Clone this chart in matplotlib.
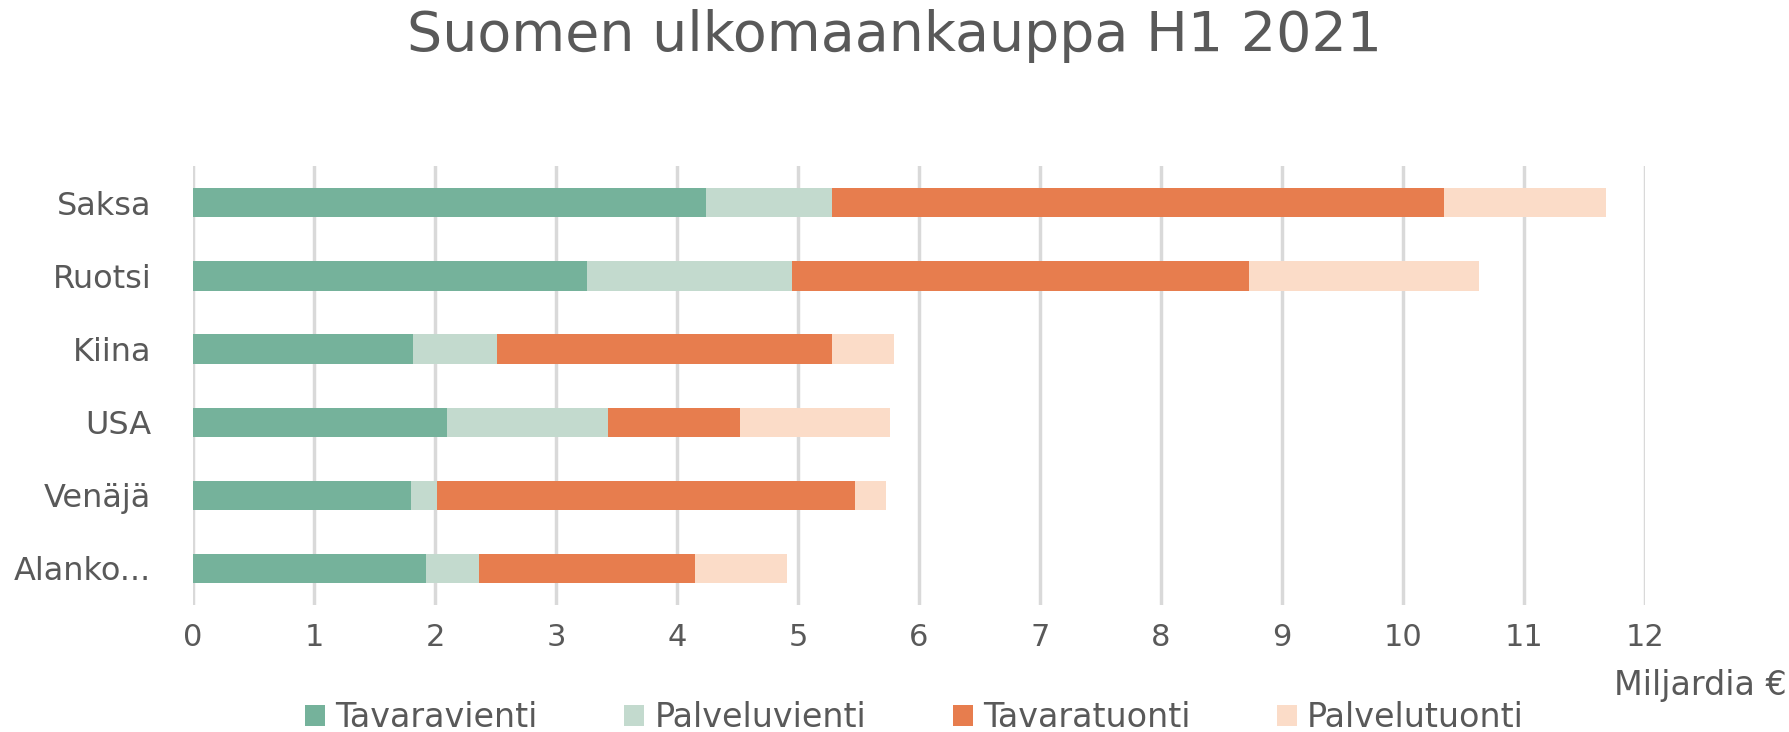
import numpy as np
import matplotlib.pyplot as plt

# maat (ylhäältä alas)
maat = ["Saksa", "Ruotsi", "Kiina", "USA", "Venäjä", "Alanko..."]

# miljardia euroa, luettu kuvasta
tavaravienti = [4.24, 3.26, 1.82, 2.10, 1.80, 1.93]
palveluvienti = [1.04, 1.69, 0.69, 1.33, 0.22, 0.43]
tavaratuonti = [5.06, 3.78, 2.77, 1.09, 3.45, 1.79]
palvelutuonti = [1.34, 1.90, 0.51, 1.24, 0.26, 0.76]

sarjat = ["Tavaravienti", "Palveluvienti", "Tavaratuonti", "Palvelutuonti"]
varit = ["#75B29B", "#C3DACE", "#E77D4E", "#FBDCC8"]
x_ticks = list(range(0, 13))

harmaa = "#595959"
plt.rcParams['font.family'] = ['DejaVu Sans']

fig = plt.figure(figsize=(17.9, 7.32), dpi=100)
ax = fig.add_axes([0.1078, 0.1735, 0.8112, 0.5995])

y = np.arange(len(maat))
vasen = np.zeros(len(maat))
for nimi, arvot, vari in zip(sarjat, [tavaravienti, palveluvienti, tavaratuonti, palvelutuonti], varit):
    ax.barh(y, arvot, left=vasen, height=0.4, color=vari, label=nimi, zorder=3)
    vasen = vasen + np.array(arvot)

ax.set_xlim(0, 12)
ax.set_ylim(len(maat) - 0.5, -0.5)
ax.set_xticks(x_ticks)
ax.set_yticks(y)
ax.set_yticklabels(maat)
ax.xaxis.grid(True, color="#D9D9D9", linewidth=2.5, zorder=0)
ax.set_axisbelow(True)
for s in ax.spines.values():
    s.set_visible(False)
ax.tick_params(axis='x', length=0, pad=13, labelsize=22, labelcolor=harmaa)
ax.tick_params(axis='y', length=0, pad=30, labelsize=23, labelcolor=harmaa)

fig.text(0.5, 0.951, "Suomen ulkomaankauppa H1 2021", ha='center', va='center',
         fontsize=40, color=harmaa)
fig.text(0.998, 0.064, "Miljardia €", ha='right', va='center', fontsize=24, color=harmaa)

fig.legend(loc='center', bbox_to_anchor=(0.511, 0.02), ncol=4, frameon=False,
           fontsize=24, handlelength=0.6, handleheight=0.6, handletextpad=0.3,
           columnspacing=2.6, labelcolor=harmaa)

fig.savefig("out.png", dpi=100)
